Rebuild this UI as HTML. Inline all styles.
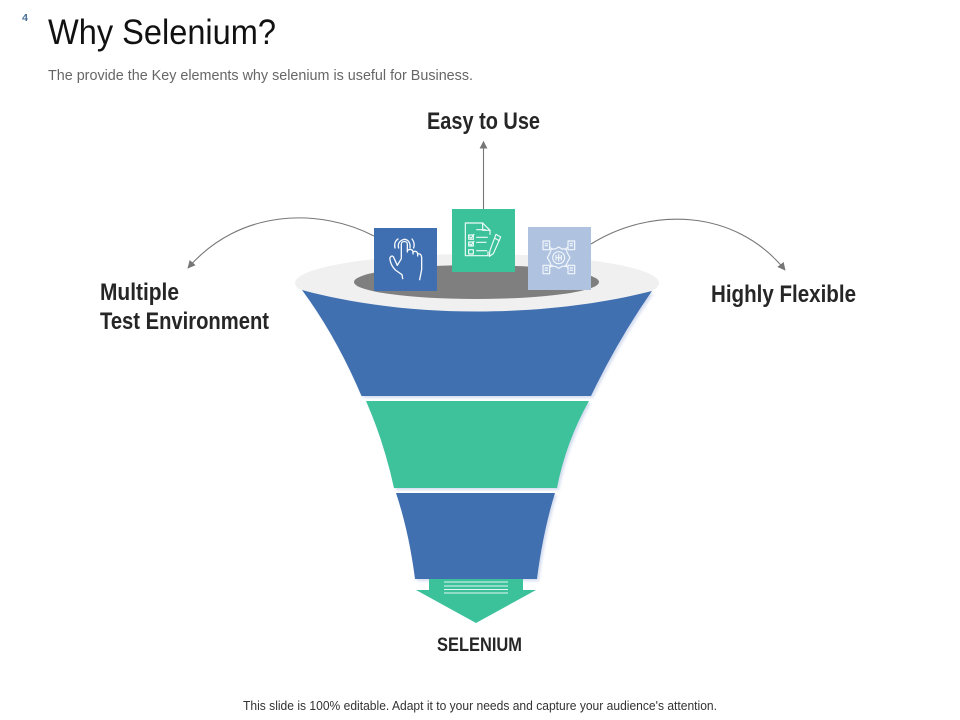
<!DOCTYPE html>
<html>
<head>
<meta charset="utf-8">
<style>
html,body{margin:0;padding:0;background:#fff;width:960px;height:720px;overflow:hidden}
svg{display:block}
text{font-family:"Liberation Sans",sans-serif}
</style>
</head>
<body>
<svg width="960" height="720" viewBox="0 0 960 720" xmlns="http://www.w3.org/2000/svg">
<defs>
<marker id="a" viewBox="0 0 10 10" refX="9" refY="5" markerWidth="8" markerHeight="8" markerUnits="userSpaceOnUse" orient="auto"><path d="M0 0L10 5L0 10Z" fill="#767676"/></marker>
<filter id="s" x="-10%" y="-10%" width="125%" height="125%"><feDropShadow dx="2" dy="2" stdDeviation="1.2" flood-color="#c3cfe9" flood-opacity=".7"/></filter>
</defs>
<rect width="960" height="720" fill="#fff"/>

<text x="22" y="21" font-size="10" font-weight="bold" fill="#4a7196" textLength="6" lengthAdjust="spacingAndGlyphs">4</text>
<text x="48" y="44" font-size="35" fill="#111" textLength="228" lengthAdjust="spacingAndGlyphs">Why Selenium?</text>
<text x="48" y="80" font-size="15" fill="#666" textLength="425" lengthAdjust="spacingAndGlyphs">The provide the Key elements why selenium is useful for Business.</text>

<text x="427" y="129" font-size="24" font-weight="bold" fill="#262626" textLength="113" lengthAdjust="spacingAndGlyphs">Easy to Use</text>
<text x="100" y="300" font-size="24" font-weight="bold" fill="#262626" textLength="79" lengthAdjust="spacingAndGlyphs">Multiple</text>
<text x="100" y="329" font-size="24" font-weight="bold" fill="#262626" textLength="169" lengthAdjust="spacingAndGlyphs">Test Environment</text>
<text x="711" y="302" font-size="24" font-weight="bold" fill="#262626" textLength="145" lengthAdjust="spacingAndGlyphs">Highly Flexible</text>
<text x="437" y="651" font-size="19" font-weight="bold" fill="#262626" textLength="85" lengthAdjust="spacingAndGlyphs">SELENIUM</text>
<text x="243" y="710" font-size="12.500" fill="#333" textLength="474" lengthAdjust="spacingAndGlyphs">This slide is 100% editable. Adapt it to your needs and capture your audience's attention.</text>

<path d="M483.500 209V141.500" stroke="#777" stroke-width="1.100" fill="none" marker-end="url(#a)"/>
<path d="M374 236C320 208 240 208 188 268" stroke="#777" stroke-width="1.100" fill="none" marker-end="url(#a)"/>
<path d="M591 244C650 207 735 208 785 270" stroke="#777" stroke-width="1.100" fill="none" marker-end="url(#a)"/>

<ellipse cx="477" cy="283" rx="182" ry="29" fill="#f0f0f1"/>
<ellipse cx="476.500" cy="282" rx="122.500" ry="17" fill="#7f7f7f"/>

<path d="M302 290C350 303 410 311.500 477 311.500C545 311.500 605 303 652 291Q618 340 591 396H361.500Q336 336 302 290Z" fill="#3f6fb0" filter="url(#s)"/>
<path d="M366 401H589Q566 442 557 488H394Q384 442 366 401Z" fill="#3cc29b" filter="url(#s)"/>
<path d="M396 493H555Q543 532 537 579H415Q409 532 396 493Z" fill="#3f6fb0" filter="url(#s)"/>

<path d="M429 579H523V590H536L476 623L416 590H429Z" fill="#3cc29b"/>
<g stroke="#e6f7f2" stroke-width="1"><path d="M444 582H508M444 586H508M444 589.500H508M444 593H508"/></g>

<rect x="374" y="228" width="63" height="63" fill="#3f6fb0"/>
<rect x="452" y="209" width="63" height="63" fill="#3cc29b"/>
<rect x="528" y="227" width="63" height="63" fill="#afc3e0"/>

<g transform="translate(374 228) scale(.3333)" fill="none" stroke="#f4f8fc" stroke-width="4" stroke-linecap="round" stroke-linejoin="round">
<path d="M70 112L82 92V48C82 38 100 38 100 48V72"/>
<path d="M100 70C101 62 116 62 117 72V78M117 74C118 68 130 68 131 78V84M131 80C133 74 143 78 143 90V125L137 155"/>
<path d="M70 112L58 86C54 82 46 86 48 95C50 108 56 118 64 126L84 140L86 152"/>
<path d="M74 60C70 48 76 38 90 34C102 34 110 44 108 60"/>
<path d="M63 60C60 48 64 38 72 33M114 33C120 40 122 50 119 60"/>
</g>

<g transform="translate(452 209) scale(.3333)" fill="none" stroke="#eefaf6" stroke-width="3.500" stroke-linecap="round" stroke-linejoin="round">
<path d="M40 42H92L114 64V76M40 42V140H108V128"/>
<path d="M92 42V64H114"/>
<path d="M50 78H64V91H50ZM50 99H64V111H50ZM50 122H64V135H50Z"/>
<path d="M53 84L57 88L66 76M53 105L57 109L66 97"/>
<path d="M74 62H100M74 85H106M74 100H102M74 125H104"/>
<path d="M132 76L146 84L124 134L112 142L114 124Z"/>
<path d="M129 88L142 95"/>
</g>

<g transform="translate(528 227) scale(.3333)" fill="none" stroke="#f2f6fb" stroke-width="3.500" stroke-linejoin="round">
<path d="M45 42H65V68H45ZM120 42H140V68H120ZM45 115H65V140H45ZM120 115H140V140H120Z"/>
<path d="M50 50H60M50 56H60M125 50H135M125 56H135M50 123H60M50 130H60M125 123H135M125 130H135"/>
<path d="M92 60L102 66L114 66L118 78L126 92L118 106L114 118L102 118L92 124L82 118L70 118L66 106L58 92L66 78L70 66L82 66Z"/>
<circle cx="92" cy="92" r="18"/>
<path d="M84 84V100M92 80V104M100 84V100M84 92H100"/>
<path d="M65 60L74 68M120 60L110 68M65 122L74 114M120 122L110 114"/>
</g>
</svg>
</body>
</html>
